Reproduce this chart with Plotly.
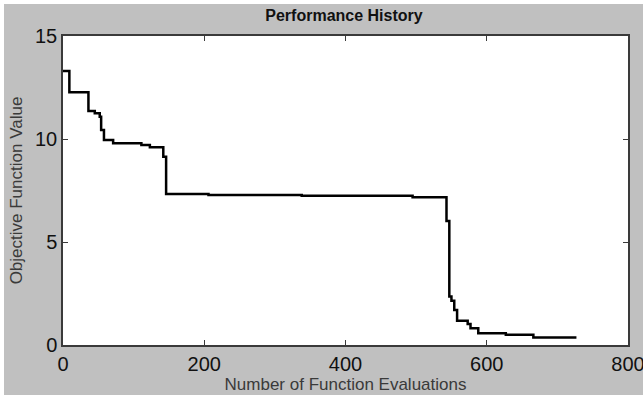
import plotly.graph_objects as go

# Data (step-wise best objective value)
evaluations = [0, 9, 36, 45, 52, 54, 58, 71, 111, 123, 142, 146, 206, 338, 495,
               543, 547, 550, 554, 558, 573, 577, 588, 627, 666, 727]
objective = [13.3, 12.27, 11.36, 11.25, 11.08, 10.44, 9.95, 9.79, 9.71, 9.6, 9.14,
             7.33, 7.28, 7.25, 7.17, 6.02, 2.35, 2.15, 1.7, 1.18, 1.02, 0.81,
             0.57, 0.5, 0.36, 0.36]

x_ticks = [0, 200, 400, 600, 800]
y_ticks = [0, 5, 10, 15]

W, H = 643, 395
L, R, T, B = 63, 15, 36, 50
pw, ph = W - L - R, H - T - B


def px_x(p):
    return (p - L) / pw


def px_y(p):
    return (H - B - p) / ph


fig = go.Figure()
fig.add_trace(go.Scatter(
    x=evaluations, y=objective, mode="lines",
    line=dict(color="black", width=2.5, shape="hv"),
    showlegend=False, hoverinfo="skip",
))

font_family = "Liberation Sans, Arial, sans-serif"
gray = "#c0c0c0"
frame = "#3a3a3a"

fig.update_layout(
    width=W, height=H,
    margin=dict(l=L, r=R, t=T, b=B, pad=0, autoexpand=False),
    paper_bgcolor=gray,
    plot_bgcolor="white",
    font=dict(family=font_family, color="black"),
    title=dict(text="<b>Performance History</b>", x=px_x(344), xref="paper",
               xanchor="center", y=1 - 15 / H, yanchor="middle",
               font=dict(size=16, color="#111111", family=font_family)),
    xaxis=dict(range=[0, 800], tickvals=x_ticks, ticktext=[str(v) for v in x_ticks],
               ticks="inside", ticklen=5, tickcolor=frame, mirror="ticks",
               showline=True, linecolor=frame, linewidth=1.5, automargin=False,
               showgrid=False, zeroline=False, ticklabeloverflow="allow",
               tickfont=dict(size=20, color="#111111"),
               title=dict(text="Number of Function Evaluations",
                          font=dict(size=17, color="#3a3a3a"), standoff=4)),
    yaxis=dict(range=[0, 15], tickvals=y_ticks, ticktext=[str(v) for v in y_ticks],
               ticks="inside", ticklen=5, tickcolor=frame, mirror="ticks",
               showline=True, linecolor=frame, linewidth=1.5, automargin=False,
               showgrid=False, zeroline=False,
               tickfont=dict(size=20, color="#111111"),
               title=dict(text="Objective Function Value",
                          font=dict(size=17, color="#3a3a3a"), standoff=8)),
    shapes=[
        # white border strips at the left and top of the gray figure
        dict(type="rect", xref="paper", yref="paper", x0=px_x(0), x1=px_x(4),
             y0=px_y(H), y1=px_y(0), fillcolor="white", line=dict(width=0), layer="above"),
        dict(type="rect", xref="paper", yref="paper", x0=px_x(0), x1=px_x(W),
             y0=px_y(4), y1=px_y(0), fillcolor="white", line=dict(width=0), layer="above"),
    ],
)

fig.write_html("out.html")
